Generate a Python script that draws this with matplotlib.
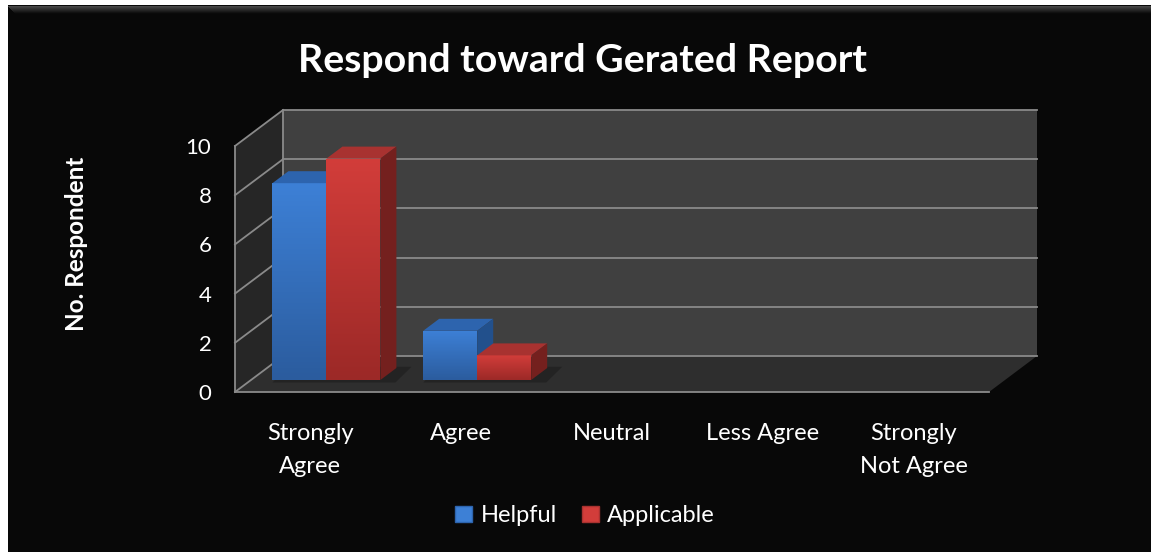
import matplotlib
matplotlib.use('Agg')
import matplotlib.pyplot as plt
from matplotlib.patches import Polygon, Rectangle, Patch
from matplotlib.lines import Line2D
from matplotlib.colors import LinearSegmentedColormap
import numpy as np

# ---- data ----
categories = ['Strongly\nAgree', 'Agree', 'Neutral', 'Less Agree', 'Strongly\nNot Agree']
helpful = [8, 2, 0, 0, 0]
applicable = [9, 1, 0, 0, 0]
series_names = ['Helpful', 'Applicable']
y_ticks = [0, 2, 4, 6, 8, 10]
title_text = 'Respond toward Gerated Report'
ylabel_text = 'No. Respondent'

# ---- style ----
FONT = 'Lato'
plt.rcParams['font.family'] = [FONT, 'DejaVu Sans']
W, H = 1151, 552
fig = plt.figure(figsize=(W / 100, H / 100), dpi=100, facecolor='white')
fig.patches.append(Rectangle((8 / W, 0), 1 - 8 / W, 1 - 5 / H, transform=fig.transFigure,
                             facecolor='#080808', edgecolor='none', zorder=-10))
# subtle top bevel of the chart frame
for k in range(8):
    g = int(0x48 - k * (0x48 - 0x0a) / 7)
    yy = 1 - (5.5 + k) / H
    fig.add_artist(Line2D([(8 + k) / W, 1], [yy, yy], transform=fig.transFigure,
                          color='#%02x%02x%02x' % (g, g, g), lw=0.75, zorder=-9))

# front plane of the 3-D box
left_px, right_px, bot_px, top_px = 235, 989, 392, 146
ax = fig.add_axes([left_px / W, (H - bot_px) / H, (right_px - left_px) / W, (bot_px - top_px) / H])
ax.set_facecolor('none')
n = len(categories)
x = np.arange(n)
xlim = (-0.5, n - 0.5)
ylim = (0, 10)

px_x = (right_px - left_px) / n
px_y = (bot_px - top_px) / 10
DX = 48 / px_x     # depth offset, data units
DY = 36 / px_y

x0, x1 = xlim
y0, y1 = ylim
grid_c = '#8a8a8a'
# walls
ax.add_patch(Polygon([(x0 + DX, y0 + DY), (x1 + DX, y0 + DY), (x1 + DX, y1 + DY), (x0 + DX, y1 + DY)],
                     closed=True, facecolor='#404040', edgecolor='none', clip_on=False, zorder=0))
ax.add_patch(Polygon([(x0, y0), (x1, y0), (x1 + DX, y0 + DY), (x0 + DX, y0 + DY)],
                     closed=True, facecolor='#2e2e2e', edgecolor='none', clip_on=False, zorder=0))
ax.add_patch(Polygon([(x0, y0), (x0 + DX, y0 + DY), (x0 + DX, y1 + DY), (x0, y1)],
                     closed=True, facecolor='#262626', edgecolor='none', clip_on=False, zorder=0))
# gridlines
for v in y_ticks:
    ax.plot([x0 + DX, x1 + DX], [v + DY, v + DY], color=grid_c, lw=1.3, clip_on=False, zorder=1)
    ax.plot([x0, x0 + DX], [v, v + DY], color=grid_c, lw=1.3, clip_on=False, zorder=1)
ax.plot([x0 + DX, x0 + DX], [y0 + DY, y1 + DY], color=grid_c, lw=1.3, clip_on=False, zorder=1)
ax.plot([x0, x0], [y0, y1], color=grid_c, lw=1.3, clip_on=False, zorder=1)
ax.plot([x0, x1], [y0, y0], color=grid_c, lw=1.3, clip_on=False, zorder=1)

# bars
bw = 54 / px_x
d, e = DX / 3, DY / 3
series = [helpful, applicable]
front_cols = [('#3d80d6', '#2b5c9e'), ('#d23d3a', '#9c2927')]
top_cols = ['#2d64ae', '#a83230']
side_cols = ['#22508c', '#74201e']

# soft floor shadow behind each bar group
for i in range(n):
    if max(s[i] for s in series) <= 0:
        continue
    gx0 = x[i] - bw + d
    gx1 = x[i] + bw + d + 0.1
    ax.add_patch(Polygon([(gx0, e - 0.1), (gx1, e - 0.1), (gx1 + d, 2 * e + 0.05), (gx0 + d, 2 * e + 0.05)],
                         closed=True, facecolor='#1a1a1a', edgecolor='none', alpha=0.55,
                         clip_on=False, zorder=2))

for i in range(n):
    for s, vals in enumerate(series):
        v = vals[i]
        if v <= 0:
            continue
        z = 10 + i * 4 + s * 2
        cx = x[i] + (s - 0.5) * bw + d
        bars = ax.bar([cx], [v], width=bw, bottom=e, color=front_cols[s][0],
                      edgecolor='none', zorder=z)
        p = bars.patches[0]
        bx0, bx1 = cx - bw / 2, cx + bw / 2
        bt = e + v
        cmap = LinearSegmentedColormap.from_list('g', [front_cols[s][1], front_cols[s][0]])
        im = ax.imshow(np.linspace(0, 1, 100).reshape(-1, 1), extent=[bx0, bx1, e, bt],
                       origin='lower', cmap=cmap, aspect='auto', zorder=z, clip_on=True)
        im.set_clip_path(p)
        ax.add_patch(Polygon([(bx0, bt), (bx1, bt), (bx1 + d, bt + e), (bx0 + d, bt + e)],
                             closed=True, facecolor=top_cols[s], edgecolor='none',
                             clip_on=False, zorder=z + 1))
        ax.add_patch(Polygon([(bx1, e), (bx1 + d, 2 * e), (bx1 + d, bt + e), (bx1, bt)],
                             closed=True, facecolor=side_cols[s], edgecolor='none',
                             clip_on=False, zorder=z + 1))

ax.set_xlim(*xlim)
ax.set_ylim(*ylim)
for sp in ax.spines.values():
    sp.set_visible(False)
ax.set_xticks(x)
ax.set_xticklabels(categories, fontsize=17, color='white', linespacing=1.72)
ax.set_yticks(y_ticks)
ax.set_yticklabels([str(t) for t in y_ticks], fontsize=16, color='white')
ax.tick_params(axis='x', length=0, pad=22.5)
ax.tick_params(axis='y', length=0, pad=17)

fig.text(582 / W, 1 - 72 / H, title_text, ha='center', va='baseline', color='white',
         fontsize=28.3, fontweight='bold')
fig.text(76.5 / W, 1 - 243.5 / H, ylabel_text, ha='center', va='center', rotation=90,
         color='white', fontsize=17.5, fontweight='bold')

handles = [Patch(facecolor=front_cols[0][0], edgecolor=top_cols[0]),
           Patch(facecolor=front_cols[1][0], edgecolor=top_cols[1])]
fig.legend(handles, series_names, loc='center', bbox_to_anchor=(585 / W, 1 - 516 / H), ncol=2,
           frameon=False, handlelength=0.72, handleheight=0.65, handletextpad=0.35,
           columnspacing=1.05, labelcolor='white', fontsize=17)

fig.savefig('out.png', dpi=100, facecolor=fig.get_facecolor())
